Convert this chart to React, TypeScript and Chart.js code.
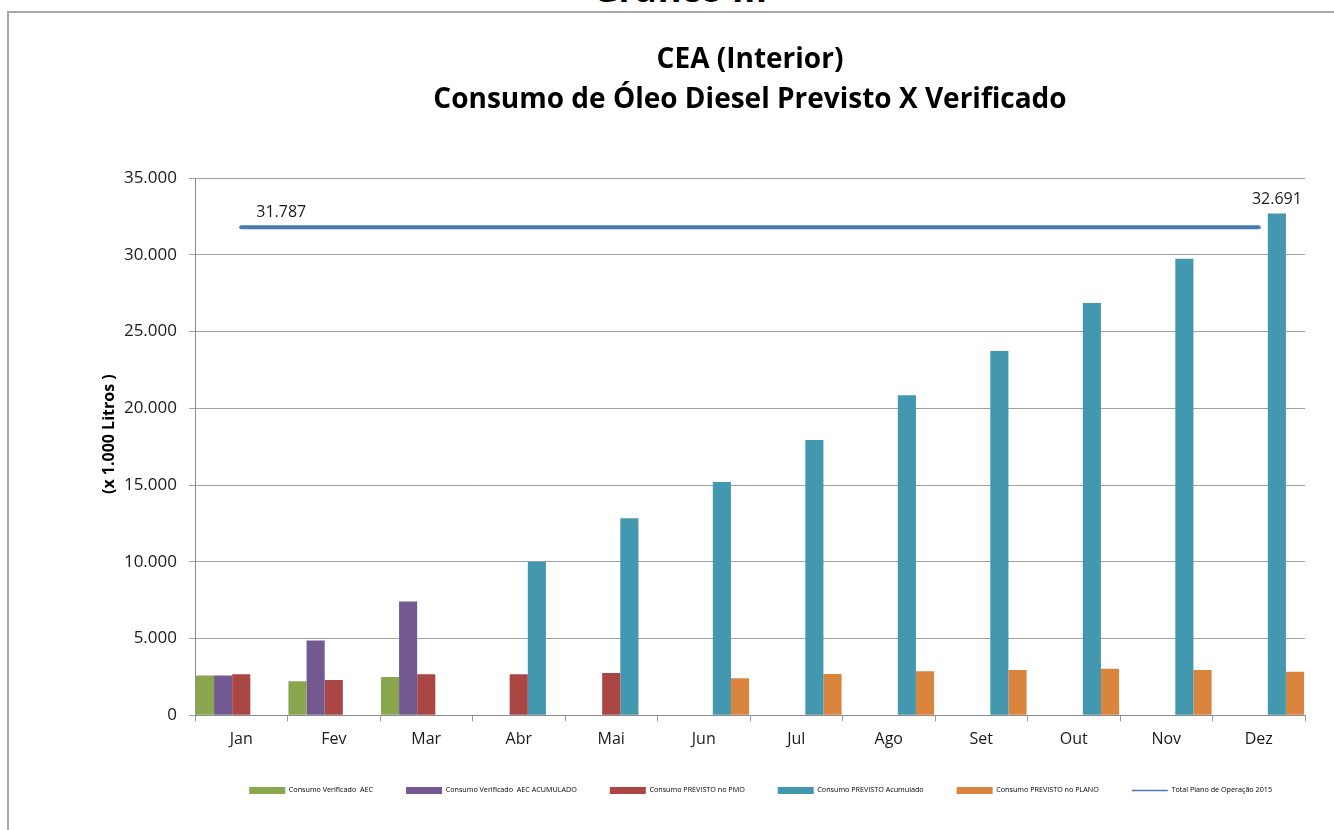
import React, { useEffect, useRef } from "react";
import { Chart, registerables } from "chart.js";

Chart.register(...registerables);

const months = ["Jan", "Fev", "Mar", "Abr", "Mai", "Jun", "Jul", "Ago", "Set", "Out", "Nov", "Dez"];
const verificadoAEC = [2585, 2219, 2500, null, null, null, null, null, null, null, null, null];
const verificadoAcumulado = [2585, 4870, 7415, null, null, null, null, null, null, null, null, null];
const previstoPMO = [2676, 2304, 2676, 2676, 2760, null, null, null, null, null, null, null];
const previstoAcumulado = [null, null, null, 10000, 12835, 15195, 17926, 20850, 23738, 26857, 29738, 32691];
const previstoPlano = [null, null, null, null, null, 2412, 2692, 2868, 2953, 3038, 2953, 2842];
const totalPlano2015 = [31787, 31787, 31787, 31787, 31787, 31787, 31787, 31787, 31787, 31787, 31787, 31787];

const seriesNames = [
  "Consumo Verificado  AEC",
  "Consumo Verificado  AEC ACUMULADO",
  "Consumo PREVISTO no PMO",
  "Consumo PREVISTO Acumulado",
  "Consumo PREVISTO no PLANO",
  "Total Plano de Operação 2015",
];
const yTicksMax = 35000;
const yTicksStep = 5000;

const COLORS = ["#8aa64f", "#725a91", "#aa4644", "#4398b0", "#db843d", "#4a7ab5"];

const fmt = (v: number) => String(Math.round(v)).replace(/\B(?=(\d{3})+(?!\d))/g, ".");

const FONT = "'Open Sans', sans-serif";

const extrasPlugin = {
  id: "extras",
  afterDatasetsDraw(chart: any) {
    const ctx = chart.ctx;
    ctx.save();
    ctx.font = `16px ${FONT}`;
    ctx.fillStyle = "#1a1a1a";
    ctx.textAlign = "center";
    ctx.textBaseline = "middle";
    const lineMeta = chart.getDatasetMeta(5);
    const p0 = lineMeta.data[0];
    if (p0) ctx.fillText(fmt(totalPlano2015[0]), p0.x + 40, p0.y - 15);
    const barMeta = chart.getDatasetMeta(3);
    const last = barMeta.data[11];
    if (last) ctx.fillText(fmt(previstoAcumulado[11] as number), last.x, last.y - 14);
    ctx.restore();
  },
  afterDraw(chart: any) {
    const lg = chart.legend;
    if (!lg || !lg.legendHitBoxes || !lg.legendHitBoxes[5]) return;
    const hb = lg.legendHitBoxes[5];
    const ctx = chart.ctx;
    ctx.save();
    ctx.strokeStyle = COLORS[5];
    ctx.lineWidth = 1.5;
    ctx.beginPath();
    const y = hb.top + hb.height / 2;
    ctx.moveTo(hb.left, y);
    ctx.lineTo(hb.left + 36, y);
    ctx.stroke();
    ctx.restore();
  },
};

export default function App() {
  const ref = useRef<HTMLCanvasElement>(null);

  useEffect(() => {
    if (!ref.current) return;
    const barData = [verificadoAEC, verificadoAcumulado, previstoPMO, previstoAcumulado, previstoPlano];
    const datasets: any[] = barData.map((d, i) => ({
      type: "bar",
      label: seriesNames[i],
      data: d,
      backgroundColor: COLORS[i],
      borderWidth: 0,
      categoryPercentage: 0.98,
      barPercentage: 1,
    }));
    datasets.push({
      type: "line",
      label: seriesNames[5],
      data: totalPlano2015,
      borderColor: COLORS[5],
      backgroundColor: "rgba(0,0,0,0)",
      borderWidth: 4,
      borderCapStyle: "round",
      pointRadius: 0,
      fill: false,
    });

    const chart = new Chart(ref.current, {
      type: "bar",
      data: { labels: months, datasets },
      plugins: [extrasPlugin],
      options: {
        responsive: true,
        maintainAspectRatio: false,
        animation: false,
        layout: { padding: { top: 0, left: 95, right: 29, bottom: 26 } },
        plugins: {
          tooltip: { enabled: false },
          title: {
            display: true,
            fullSize: false,
            text: ["CEA (Interior)", "Consumo de Óleo Diesel Previsto X Verificado"],
            color: "#000",
            font: { family: FONT, size: 28, weight: "bold", lineHeight: "40px" },
            padding: { top: 40, bottom: 58 },
          },
          legend: {
            position: "bottom",
            align: "end",
            fullSize: false,
            labels: {
              boxWidth: 36,
              boxHeight: 7,
              padding: 33,
              color: "#000",
              font: { family: FONT, size: 7.2 },
              generateLabels: (c: any) => {
                const items = Chart.defaults.plugins.legend.labels.generateLabels(c);
                items.forEach((it: any, i: number) => {
                  if (i === 5) {
                    it.fillStyle = "rgba(0,0,0,0)";
                    it.strokeStyle = "rgba(0,0,0,0)";
                    it.lineWidth = 0;
                  } else {
                    it.lineWidth = 0;
                  }
                });
                return items;
              },
            },
          },
        },
        scales: {
          x: {
            grid: { display: true, drawOnChartArea: false, drawTicks: true, tickLength: 6, color: "#9a9a9a", offset: true },
            border: { color: "#8c8c8c", width: 1 },
            ticks: { color: "#1a1a1a", font: { family: FONT, size: 16 }, padding: 9 },
            afterFit: (s: any) => {
              s.height = 38.5;
            },
          },
          y: {
            min: 0,
            max: yTicksMax,
            ticks: {
              stepSize: yTicksStep,
              color: "#1a1a1a",
              font: { family: FONT, size: 17 },
              padding: 12,
              callback: (v: any) => fmt(Number(v)),
            },
            grid: { color: "#a0a0a0", tickLength: 6 },
            border: { color: "#8c8c8c", width: 1 },
            title: {
              display: true,
              text: "      (x 1.000 Litros )",
              color: "#000",
              font: { family: FONT, size: 16, weight: "bold" },
              padding: { top: 5, bottom: 0 },
            },
            afterFit: (s: any) => {
              s.width = 100;
            },
          },
        },
      },
    } as any);
    return () => chart.destroy();
  }, []);

  return (
    <div style={{ position: "fixed", left: 0, top: 0, width: 1334, height: 830, overflow: "hidden", background: "#fff" }}>
      <div
        style={{
          position: "absolute",
          left: 0,
          top: -29,
          width: 1360,
          textAlign: "center",
          fontFamily: FONT,
          fontWeight: "bold",
          fontSize: 36,
          lineHeight: "36px",
          color: "#000",
        }}
      >
        Gráfico III
      </div>
      <div
        style={{
          position: "absolute",
          left: 7,
          top: 11,
          width: 1400,
          height: 900,
          borderLeft: "2px solid #a8a8a8",
          borderTop: "2px solid #a8a8a8",
        }}
      />
      <div style={{ position: "absolute", left: 0, top: 0, width: 1334, height: 830 }}>
        <canvas ref={ref} />
      </div>
    </div>
  );
}
